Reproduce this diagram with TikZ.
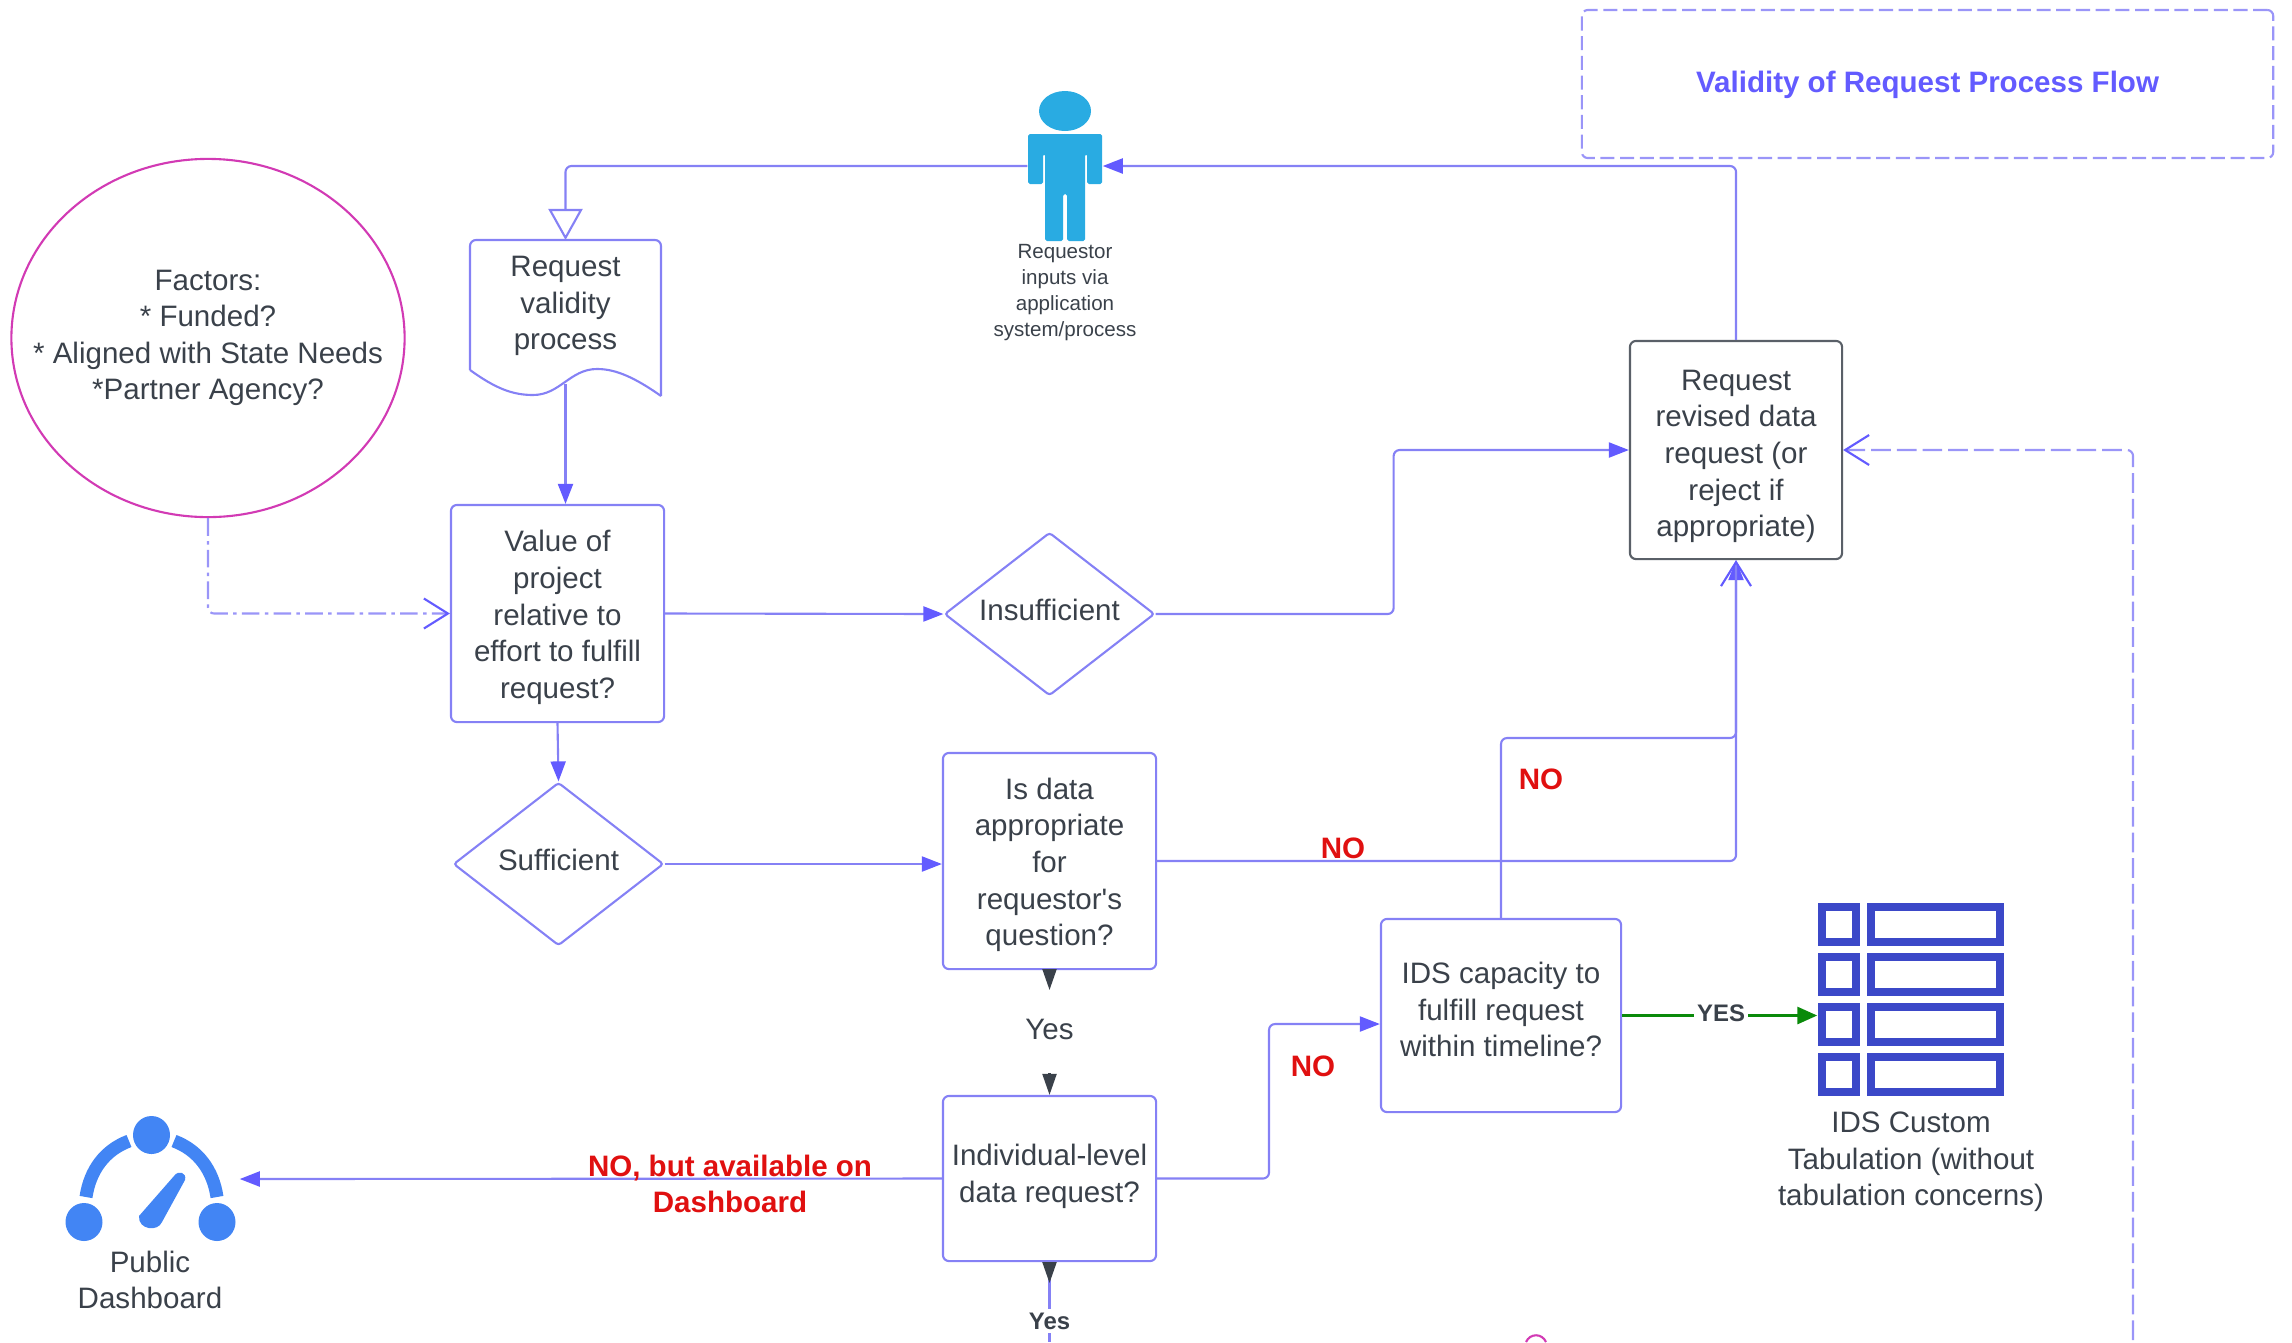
\documentclass[tikz,border=0pt]{standalone}
\usepackage{fontspec}
\setmainfont{Liberation Sans}
\usepackage{xcolor}
\usetikzlibrary{arrows.meta,shapes.geometric}
\definecolor{flowline}{HTML}{8581F5}
\definecolor{flowtip}{HTML}{635BFF}
\definecolor{paledash}{HTML}{9A95F8}
\definecolor{inktext}{HTML}{3A414A}
\definecolor{boxgrey}{HTML}{5A6068}
\definecolor{flowred}{HTML}{E01010}
\definecolor{flowgreen}{HTML}{0A8A0A}
\definecolor{rosyline}{HTML}{D23AB4}
\definecolor{personblue}{HTML}{29ABE2}
\definecolor{tableblue}{HTML}{3B48C8}
\definecolor{dialblue}{HTML}{4285F4}
\newcommand{\padup}[1]{\rule{0pt}{#1}}
\newcommand{\paddn}[1]{\rule[-#1]{0pt}{0pt}}
\tikzset{
  txt/.style={text=inktext,align=center,inner sep=0pt,font=\fontsize{8.4}{10.4}\selectfont},
  smalltxt/.style={text=inktext,align=center,inner sep=0pt,font=\fontsize{5.85}{7.4}\selectfont},
  boldred/.style={text=flowred,align=center,inner sep=0pt,font=\bfseries\fontsize{8.4}{10.4}\selectfont},
  boldyes/.style={text=inktext,fill=white,inner sep=1pt,font=\bfseries\fontsize{6.8}{8}\selectfont},
  flowbox/.style={txt,rectangle,draw=flowline,line width=.6pt,rounded corners=.06cm},
  greybox/.style={flowbox,draw=boxgrey},
  flowdiam/.style={txt,diamond,draw=flowline,line width=.6pt,rounded corners=.03cm,aspect=1.3,text depth=2.5pt,minimum width=2.1cm,minimum height=1.63cm},
  flow/.style={draw=flowline,line width=.6pt,rounded corners=.06cm,-{Triangle[length=.2cm,width=.15cm,color=flowtip]}},
  flowbarb/.style={draw=flowline,line width=.6pt,rounded corners=.06cm,-{Straight Barb[length=.24cm,width=.3cm,color=flowtip]}},
  flowopen/.style={draw=flowline,line width=.6pt,rounded corners=.06cm,-{Triangle[open,length=.31cm,width=.34cm,color=flowline,fill=white]}},
  darktip/.style={draw=inktext,line width=.6pt,-{Triangle[length=.21cm,width=.14cm,color=inktext]}},
  tablecell/.style={draw=tableblue,line width=.08cm}
}
\begin{document}
\begin{tikzpicture}[x=.01cm,y=-.01cm]
\useasboundingbox (0,0) rectangle (2292,1342);

\node (20) at (1927.5,84) [rectangle,draw=paledash,line width=.6pt,rounded corners=.06cm,dash pattern=on 4pt off 1.6pt,minimum width=6.91cm,minimum height=1.48cm] {};
\node (21) at (1927.5,85) [text=flowtip,font=\bfseries\fontsize{8.4}{10.4}\selectfont] {Validity of Request Process Flow};

\node (1) at (1065,166) [minimum width=.74cm,inner sep=0pt] {};
\fill[personblue] (1065,111) ellipse [x radius=26,y radius=20];
\fill[personblue,rounded corners=.5pt] (1028,134) -- (1102,134) -- (1102,184) -- (1087,184) -- (1087,154) -- (1085,154) -- (1085,241) -- (1067,241) -- (1067,194) -- (1063,194) -- (1063,241) -- (1045,241) -- (1045,154) -- (1043,154) -- (1043,184) -- (1028,184) -- cycle;
\node (22) at (1065,293) [smalltxt] {Requestor\\inputs via\\application\\system/process};

\node (2) at (208,338) [ellipse,draw=rosyline,line width=.6pt,inner sep=0pt,minimum width=3.93cm,minimum height=3.58cm] {};
\node (23) at (208,338) [txt] {Factors:\\* Funded?\\* Aligned with State Needs\\*Partner Agency?};

\node (3) at (565.5,306) [txt] {Request\\validity\\process};
\coordinate (3a) at (565.5,240);
\coordinate (3b) at (565.5,384);
\draw[flowline,line width=.6pt,rounded corners=.06cm] (470,370) -- (470,240) -- (661,240) -- (661,396);
\draw[flowline,line width=.6pt] (661,396) .. controls (630,374) and (612,369) .. (597,369) .. controls (570,369) and (560,395) .. (533,395) .. controls (512,395) and (495,388) .. (470,370);

\node (4) at (557.5,613.5) [flowbox,minimum width=2.13cm,minimum height=2.17cm] {\padup{8.3pt}Value of\\project\\relative to\\effort to fulfill\\request?};
\node (5) at (1049.5,614) [flowdiam] {Insufficient};
\node (6) at (558.5,864) [flowdiam] {Sufficient};
\node (7) at (1049.5,861) [flowbox,minimum width=2.13cm,minimum height=2.16cm] {\padup{8.3pt}Is data\\appropriate\\for\\requestor\textquotesingle s\\question?};
\node (8) at (1049.5,1178.5) [flowbox,minimum width=2.13cm,minimum height=1.65cm] {Individual-level\\data request?\paddn{3pt}};
\node (9) at (1501,1015.5) [flowbox,minimum width=2.4cm,minimum height=1.93cm] {IDS capacity to\\fulfill request\\within timeline?\paddn{3.3pt}};
\node (10) at (1736,450) [greybox,minimum width=2.12cm,minimum height=2.18cm] {\padup{9.4pt}Request\\revised data\\request (or\\reject if\\appropriate)};

\node (11) at (1911,999.5) [minimum width=1.86cm,minimum height=1.93cm,inner sep=0pt] {};
\draw[tablecell] (1822,907) rectangle (1856,942);
\draw[tablecell] (1871,907) rectangle (2000,942);
\draw[tablecell] (1822,957) rectangle (1856,992);
\draw[tablecell] (1871,957) rectangle (2000,992);
\draw[tablecell] (1822,1007) rectangle (1856,1042);
\draw[tablecell] (1871,1007) rectangle (2000,1042);
\draw[tablecell] (1822,1057) rectangle (1856,1092);
\draw[tablecell] (1871,1057) rectangle (2000,1092);
\node (24) at (1911,1162) [txt] {IDS Custom\\Tabulation (without\\tabulation concerns)};

\node (12) at (151,1179) [minimum width=1.76cm,inner sep=0pt] {};
\fill[dialblue] (151.5,1135) ellipse [x radius=18.5,y radius=19];
\fill[dialblue] (84,1222) ellipse [x radius=18.5,y radius=19];
\fill[dialblue] (217,1222) ellipse [x radius=18.5,y radius=19];
\draw[dialblue,line width=.13cm] (86,1197) .. controls (90,1170) and (105,1150) .. (129,1141);
\draw[dialblue,line width=.13cm] (217,1197) .. controls (213,1170) and (198,1150) .. (174,1141);
\fill[dialblue] (174,1176) .. controls (178,1170) and (187,1172) .. (185,1180) -- (162,1222) .. controls (158,1232) and (138,1230) .. (139,1216) -- cycle;
\node (25) at (150,1280) [txt] {Public\\Dashboard};

\draw[flowopen] (1.west) -| (3a);
\draw[flow] (3b) -- (3b |- 4.north);
\draw[flow] (10.north) |- (1.east);
\draw[flowbarb,dash pattern=on 5pt off 1.5pt on 1pt off 1.5pt,draw=paledash] (2.south) |- (4.west);
\draw[flow] (4.east) -- (5.west);
\draw[flow] (5.east) -- ++(238,0) |- (10.west);
\draw[flow] (4.south) -- (6.north);
\draw[flow] (6.east) -- (7.west |- 6.east);
\draw[flow] (7.east) -| (10.south);
\draw[flowbarb] (9.north) |- (1736,738) -- (10.south);
\node (13) at (1343,848) [boldred] {NO};
\node (14) at (1541,779) [boldred] {NO};

\node (15) at (1049.5,1029) [txt] {Yes};
\coordinate (15a) at (1049.5,990);
\coordinate (15b) at (1049.5,1073);
\draw[darktip] (7.south) -- (15a);
\draw[darktip] (15b) -- (8.north);

\coordinate (8a) at (1269,1024);
\draw[flow] (8.east) -| (8a) -- (8a -| 9.west);
\node (16) at (1313,1066) [boldred] {NO};

\draw[flow] (8.west) -- (12.east);
\node (17) at (730,1184) [boldred] {NO, but available on\\Dashboard};

\coordinate (18) at (1049.5,1342);
\draw[flow,-] (8.south) -- (18);
\coordinate (18a) at (1049.5,1283);
\draw[darktip] (8.south) -- (18a);
\node (19) at (1049.5,1321) [boldyes] {Yes};

\draw[flowgreen,line width=.03cm,-{Triangle[length=.2cm,width=.17cm]}] (9.east) -- (9.east -| 11.west);
\node (26) at (1721,1013) [boldyes] {YES};

\coordinate (27) at (2133,1340);
\draw[flowbarb,draw=paledash,dash pattern=on 5.6pt off 1.7pt] (27) |- (10.east);

\draw[rosyline,line width=.6pt] (1526,1342) .. controls (1530,1333) and (1542,1333) .. (1546,1342);
\end{tikzpicture}
\end{document}
